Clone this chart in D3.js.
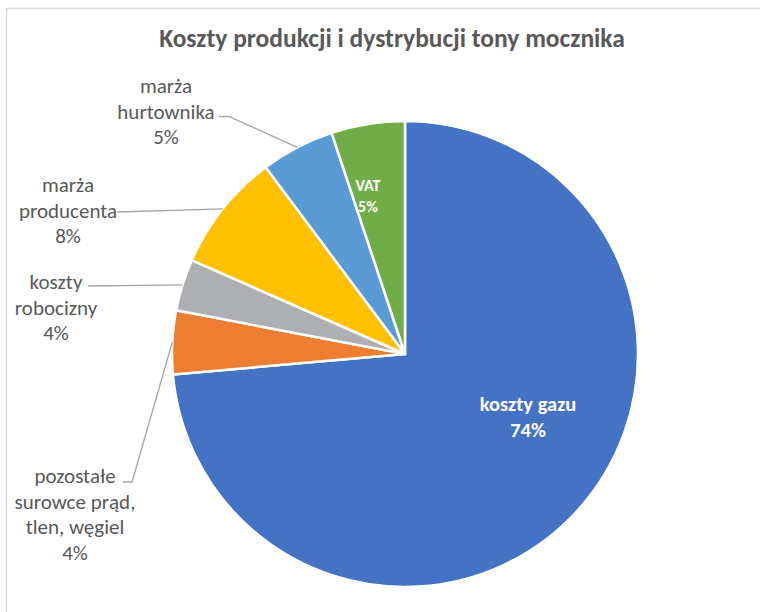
<!DOCTYPE html>
<html>
<head>
<meta charset="utf-8">
<script src="https://cdn.jsdelivr.net/npm/d3@7"></script>
<style>
  body { margin: 0; background: #fff; }
  svg { display: block; font-family: Carlito, Calibri, Lato, sans-serif; }
</style>
</head>
<body>
<div id="chart"></div>
<script>
// data (percent of total cost)
const categories = ["koszty gazu", "pozostałe surowce prąd, tlen, węgiel", "koszty robocizny",
                    "marża producenta", "marża hurtownika", "VAT"];
const values = [73.6, 4.4, 3.6, 8.2, 5.1, 5.1];
const colors = ["#4472C4", "#ED7D31", "#AEAFB3", "#FFC000", "#5B9BD5", "#70AD47"];

// how each category name is broken into lines in the label
const labelLines = [["koszty gazu"], ["pozostałe", "surowce prąd,", "tlen, węgiel"], ["koszty", "robocizny"],
                    ["marża", "producenta"], ["marża", "hurtownika"], ["VAT"]];

const width = 760, height = 612;
const cx = 405, cy = 354, radius = 233;

const svg = d3.select("#chart").append("svg")
    .attr("width", width)
    .attr("height", height);

// chart frame
svg.append("rect")
    .attr("x", 6.5).attr("y", 8.5)
    .attr("width", width).attr("height", height)
    .attr("fill", "#fff")
    .attr("stroke", "#D9D9D9")
    .attr("stroke-width", 1.5);

svg.append("text")
    .attr("x", 392).attr("y", 47)
    .attr("text-anchor", "middle")
    .attr("font-size", 25.5)
    .attr("font-weight", "bold")
    .attr("fill", "#595959")
    .text("Koszty produkcji i dystrybucji tony mocznika");

const data = categories.map((c, i) => ({ name: c, value: values[i], color: colors[i], lines: labelLines[i] }));

const pie = d3.pie().sort(null).value(d => d.value);
const arcs = pie(data);

const arc = d3.arc().innerRadius(0).outerRadius(radius);
const edge = d3.arc().innerRadius(radius).outerRadius(radius);

const g = svg.append("g").attr("transform", `translate(${cx},${cy})`);

g.selectAll("path.slice")
  .data(arcs)
  .join("path")
    .attr("class", "slice")
    .attr("d", arc)
    .attr("fill", d => d.data.color)
    .attr("stroke", "#fff")
    .attr("stroke-width", 2.5)
    .attr("stroke-linejoin", "round");

const pct = d => Math.round(d.data.value) + "%";

// labels outside the pie with leader lines (positions relative to page)
// x = text centre, y = first baseline, sx/ex = where the leader starts and bends
const outside = {
  1: { x: 75, y: 483, sx: 123, ex: 132, ey: 482 },
  2: { x: 56, y: 289, sx: 88, ex: 88, ey: 286 },
  3: { x: 68, y: 192, sx: 117, ex: 117, ey: 212 },
  4: { x: 166, y: 93, sx: 219, ex: 229, ey: 116.5 }
};
// labels inside slices
const inside = {
  0: { x: 528, y: 411, size: 20.5, gap: 26 },
  5: { x: 368, y: 191, size: 16, gap: 21 }
};

const lineH = 25.5;

arcs.forEach((d, i) => {
  if (outside[i]) {
    const p = outside[i];
    const e = edge.centroid(d);
    svg.append("polyline")
        .attr("points", [[p.sx, p.ey], [p.ex, p.ey], [cx + e[0], cy + e[1]]].map(q => q.join(",")).join(" "))
        .attr("fill", "none")
        .attr("stroke", "#A6A6A6")
        .attr("stroke-width", 1.3);
    const t = svg.append("text")
        .attr("text-anchor", "middle")
        .attr("font-size", 21)
        .attr("fill", "#595959");
    d.data.lines.concat([pct(d)]).forEach((s, k) => {
      t.append("tspan").attr("x", p.x).attr("y", p.y + k * lineH).text(s);
    });
  } else if (inside[i]) {
    const p = inside[i];
    const t = svg.append("text")
        .attr("text-anchor", "middle")
        .attr("font-size", p.size)
        .attr("font-weight", "bold")
        .attr("fill", "#fff");
    d.data.lines.concat([pct(d)]).forEach((s, k) => {
      t.append("tspan").attr("x", p.x).attr("y", p.y + k * p.gap).text(s);
    });
  }
});
</script>
</body>
</html>
